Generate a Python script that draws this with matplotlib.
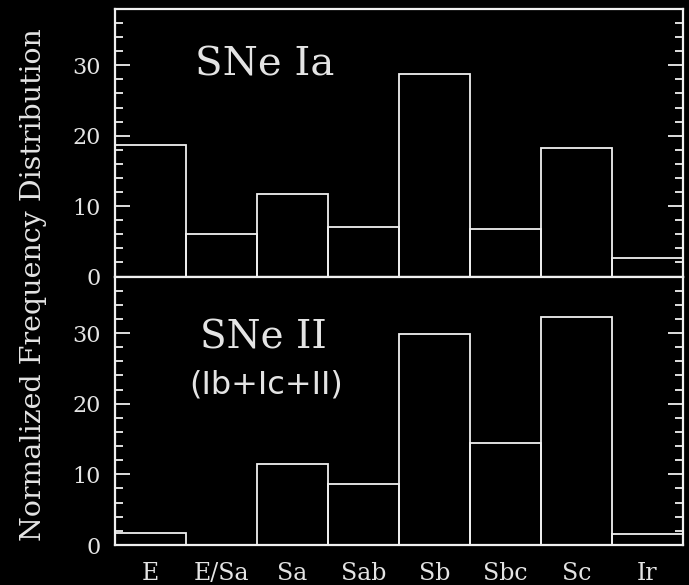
import matplotlib
matplotlib.use("Agg")
import matplotlib.pyplot as plt
from matplotlib.ticker import MultipleLocator
import numpy as np

# galaxy morphological types
types = ["E", "E/Sa", "Sa", "Sab", "Sb", "Sbc", "Sc", "Ir"]
# normalized frequency, per cent
sne_ia = [18.7, 6.1, 11.7, 7.0, 28.8, 6.7, 18.2, 2.6]
sne_ii = [1.7, 0.0, 11.4, 8.6, 29.9, 14.4, 32.2, 1.5]

fg = "#f0f0f0"
txt = "#e4e4e4"
serif = "DejaVu Serif"

fig = plt.figure(figsize=(6.89, 5.85), dpi=100, facecolor="black")
L, R = 115/689, 683/689
ax1 = fig.add_axes([L, 1-276.5/585, R-L, (276.5-9)/585])
ax2 = fig.add_axes([L, 1-545/585, R-L, (545-276.5)/585])

x = np.arange(len(types))
for ax, vals in ((ax1, sne_ia), (ax2, sne_ii)):
    ax.set_facecolor("black")
    ax.bar(x, vals, width=1, align="edge", fill=False, edgecolor=fg, linewidth=1.3)
    ax.set_xlim(0, len(types))
    ax.set_ylim(0, 38)
    ax.yaxis.set_major_locator(MultipleLocator(10))
    ax.yaxis.set_minor_locator(MultipleLocator(2))
    ax.tick_params(axis="y", which="both", direction="in", left=True, right=True,
                   color=fg, width=1.3, labelcolor=txt, labelsize=16, pad=10)
    ax.tick_params(axis="y", which="major", length=11)
    ax.tick_params(axis="y", which="minor", length=6)
    ax.tick_params(axis="x", which="both", bottom=False, top=False)
    for lab in ax.get_yticklabels():
        lab.set_family(serif)
    for s in ax.spines.values():
        s.set_color(fg)
        s.set_linewidth(1.6)

ax1.set_xticks([])
ax2.set_xticks(x + 0.5)
ax2.set_xticklabels(types, family=serif, fontsize=17, color=txt)
ax2.tick_params(axis="x", pad=9)

ax1.text(0.14, 0.79, "SNe Ia", transform=ax1.transAxes, family=serif,
         fontsize=29, color=txt, ha="left", va="center")
ax2.text(0.15, 0.77, "SNe II", transform=ax2.transAxes, family=serif,
         fontsize=28, color=txt, ha="left", va="center")
ax2.text(0.131, 0.595, "(Ib+Ic+II)", transform=ax2.transAxes, family="DejaVu Sans",
         fontsize=23, color=txt, ha="left", va="center")

fig.text(34/689, 1-285/585, "Normalized Frequency Distribution",
         rotation=90, family=serif, fontsize=20.5, color=txt, ha="center", va="center")

fig.savefig("out.png", dpi=100, facecolor="black")
